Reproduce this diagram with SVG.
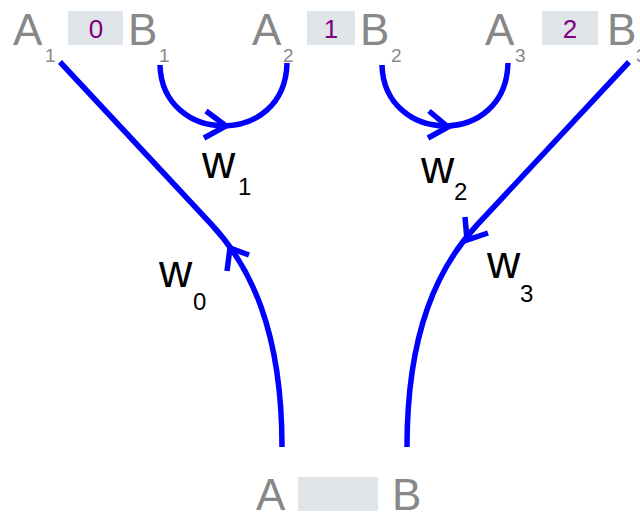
<svg xmlns="http://www.w3.org/2000/svg" width="640" height="514" viewBox="0 0 640 514">
<style>
.big{font-family:"Liberation Sans",Arial,sans-serif;font-size:44px;fill:#888888}
.sub{font-family:"Liberation Sans",Arial,sans-serif;font-size:19px;fill:#888888}
.num{font-family:"Liberation Sans",Arial,sans-serif;font-size:26px;fill:#800080;text-anchor:middle}
.box{fill:#dfe5e8}
.w{font-family:"Liberation Sans",Arial,sans-serif;font-size:46px;fill:#000}
.ws{font-family:"Liberation Sans",Arial,sans-serif;font-size:24px;fill:#000}
.edge{fill:none;stroke:#0000ff;stroke-width:5.5}
</style>
<rect width="640" height="514" fill="#fff"/>
<g id="top-0">
<text class="big" x="13" y="45">A</text><text class="sub" x="45" y="62">1</text>
<rect class="box" x="68" y="11" width="55" height="34"/>
<text class="num" x="96" y="38">0</text>
<text class="big" x="128" y="45">B</text><text class="sub" x="159" y="62">1</text>
</g>
<g id="top-1">
<text class="big" x="252" y="45">A</text><text class="sub" x="283" y="62">2</text>
<rect class="box" x="307" y="11" width="48" height="34"/>
<text class="num" x="331" y="38">1</text>
<text class="big" x="360" y="45">B</text><text class="sub" x="391" y="62">2</text>
</g>
<g id="top-2">
<text class="big" x="485" y="45">A</text><text class="sub" x="515" y="62">3</text>
<rect class="box" x="542" y="11" width="56" height="34"/>
<text class="num" x="570" y="38">2</text>
<text class="big" x="607" y="45">B</text><text class="sub" x="636" y="62">3</text>
</g>
<g id="bottom">
<text class="big" x="256" y="510">A</text>
<rect class="box" x="298" y="477" width="80" height="34"/>
<text class="big" x="392" y="510">B</text>
</g>
<g id="connectors">
<path class="edge" d="M60 62 L212 225 C250 266 282 330 282 447"/>
<polyline class="edge" points="227,271 230,248 249,255"/>
<path class="edge" d="M629 62 L477 225 C439 266 407 330 407 447"/>
<polyline class="edge" points="465,217 467,240 488,233"/>
<path class="edge" d="M160 65 C162 145 285 148 287 63"/>
<polyline class="edge" points="206,111 226,126 204,138"/>
<path class="edge" d="M382 65 C384 145 506 148 508 63"/>
<polyline class="edge" points="429,111 448,127 428,138"/>
</g>
<g id="labels">
<text class="w" x="202" y="178">w</text><text class="ws" x="238" y="195">1</text>
<text class="w" x="159" y="287">w</text><text class="ws" x="193" y="310">0</text>
<text class="w" x="421" y="183">w</text><text class="ws" x="454" y="200">2</text>
<text class="w" x="487" y="278">w</text><text class="ws" x="520" y="302">3</text>
</g>
</svg>
